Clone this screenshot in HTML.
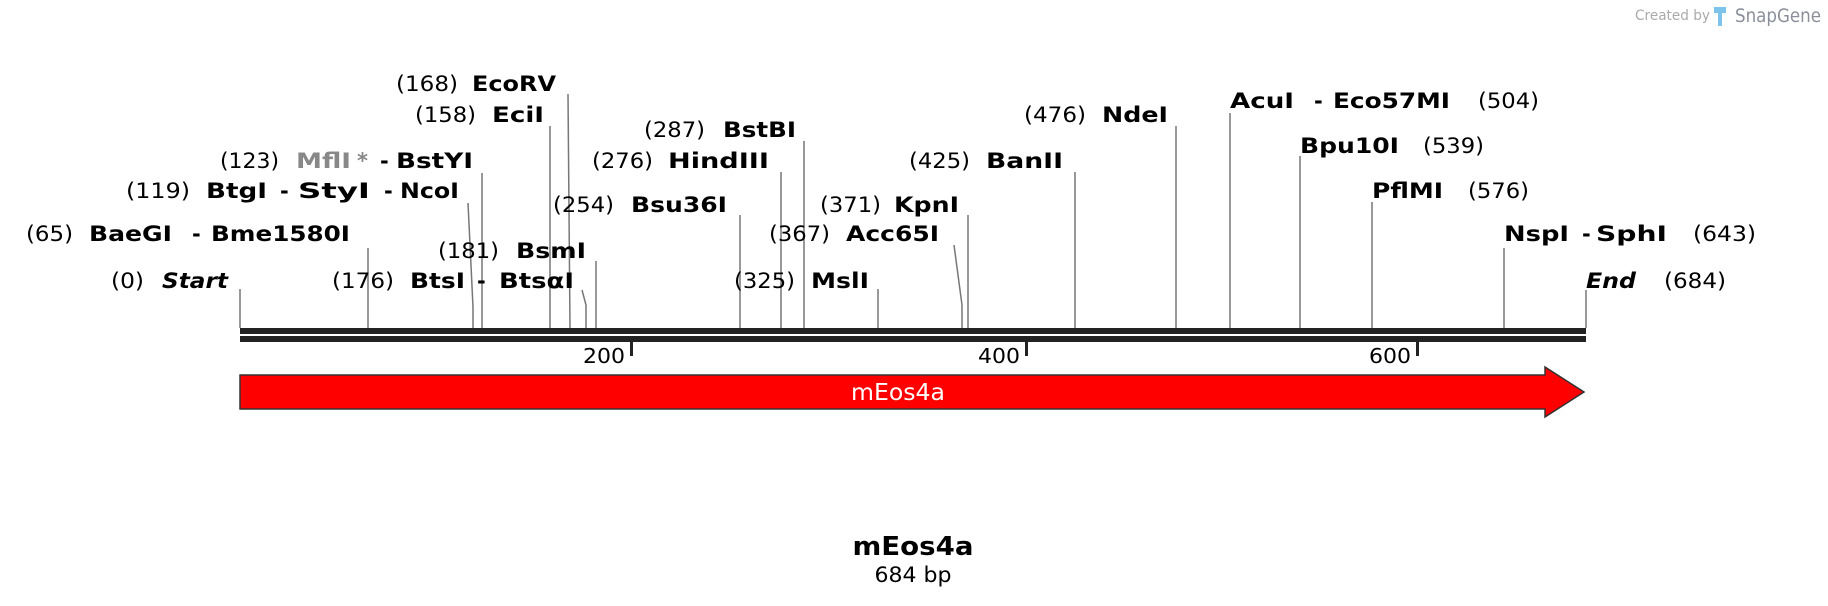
<!DOCTYPE html>
<html><head><meta charset="utf-8"><style>
html,body{margin:0;padding:0;background:#fff;}
svg{display:block;}
text{font-family:"DejaVu Sans","Liberation Sans",sans-serif;}
.n{font-size:21px;fill:#000;}
.b{font-size:21px;font-weight:bold;fill:#000;}
.g{font-size:21px;font-weight:bold;fill:#888;}
.l{stroke:#777;stroke-width:1.5;fill:none;}
</style></head><body>
<svg width="1828" height="606" viewBox="0 0 1828 606" xmlns="http://www.w3.org/2000/svg">
<text x="1635" y="20" font-size="14" fill="#aaa" textLength="75" lengthAdjust="spacingAndGlyphs">Created by</text>
<path d="M1714 7 h12 v6 h-4 v13 h-4 v-13 h-4z" fill="#7cc4ec"/>
<text x="1735" y="22" font-size="19" fill="#8a8f99" textLength="86" lengthAdjust="spacingAndGlyphs">SnapGene</text>

<path class="l" d="M240 289V328"/>
<path class="l" d="M368 248V328"/>
<path class="l" d="M468 203L473 307V328"/>
<path class="l" d="M482 173V328"/>
<path class="l" d="M550 126V328"/>
<path class="l" d="M568 94L570 328"/>
<path class="l" d="M582 290L586 305V328"/>
<path class="l" d="M596 261V328"/>
<path class="l" d="M740 215V328"/>
<path class="l" d="M781 172V328"/>
<path class="l" d="M804 141V328"/>
<path class="l" d="M878 289V328"/>
<path class="l" d="M954 245L962 305V328"/>
<path class="l" d="M968 215V328"/>
<path class="l" d="M1075 172V328"/>
<path class="l" d="M1176 126V328"/>
<path class="l" d="M1230 113V328"/>
<path class="l" d="M1300 156V328"/>
<path class="l" d="M1372 202V328"/>
<path class="l" d="M1504 248V328"/>
<path class="l" d="M1586 290V328"/>

<rect x="240" y="328" width="1346" height="6" fill="#222"/>
<rect x="240" y="336" width="1346" height="6" fill="#222"/>
<rect x="630" y="342" width="3" height="14" fill="#222"/>
<rect x="1025" y="342" width="3" height="14" fill="#222"/>
<rect x="1416" y="342" width="3" height="14" fill="#222"/>
<text x="625" y="363" font-size="20" text-anchor="end" textLength="42" lengthAdjust="spacingAndGlyphs">200</text>
<text x="1020" y="363" font-size="20" text-anchor="end" textLength="42" lengthAdjust="spacingAndGlyphs">400</text>
<text x="1411" y="363" font-size="20" text-anchor="end" textLength="42" lengthAdjust="spacingAndGlyphs">600</text>

<path d="M240 375H1545V367L1584 392L1545 417V409H240Z" fill="#f00" stroke="#333" stroke-width="1.5"/>
<text x="898" y="400" font-size="23" fill="#fff" text-anchor="middle" textLength="94" lengthAdjust="spacingAndGlyphs">mEos4a</text>

<g>
<text class="n" x="396" y="91" textLength="62" lengthAdjust="spacingAndGlyphs">(168)</text>
<text class="b" x="472" y="91" textLength="84" lengthAdjust="spacingAndGlyphs">EcoRV</text>
<text class="n" x="415" y="122" textLength="61" lengthAdjust="spacingAndGlyphs">(158)</text>
<text class="b" x="492" y="122" textLength="52" lengthAdjust="spacingAndGlyphs">EciI</text>
<text class="n" x="644" y="137" textLength="61" lengthAdjust="spacingAndGlyphs">(287)</text>
<text class="b" x="723" y="137" textLength="73" lengthAdjust="spacingAndGlyphs">BstBI</text>
<text class="n" x="220" y="168" textLength="59" lengthAdjust="spacingAndGlyphs">(123)</text>
<text class="g" x="296" y="168" textLength="55" lengthAdjust="spacingAndGlyphs">MflI</text>
<text class="g" x="357" y="168">*</text>
<text class="b" x="380" y="168">-</text>
<text class="b" x="396" y="168" textLength="77" lengthAdjust="spacingAndGlyphs">BstYI</text>
<text class="n" x="592" y="168" textLength="61" lengthAdjust="spacingAndGlyphs">(276)</text>
<text class="b" x="668" y="168" textLength="101" lengthAdjust="spacingAndGlyphs">HindIII</text>
<text class="n" x="909" y="168" textLength="61" lengthAdjust="spacingAndGlyphs">(425)</text>
<text class="b" x="986" y="168" textLength="77" lengthAdjust="spacingAndGlyphs">BanII</text>
<text class="n" x="1024" y="122" textLength="62" lengthAdjust="spacingAndGlyphs">(476)</text>
<text class="b" x="1102" y="122" textLength="66" lengthAdjust="spacingAndGlyphs">NdeI</text>
<text class="b" x="1230" y="108" textLength="64" lengthAdjust="spacingAndGlyphs">AcuI</text>
<text class="b" x="1314" y="108">-</text>
<text class="b" x="1333" y="108" textLength="117" lengthAdjust="spacingAndGlyphs">Eco57MI</text>
<text class="n" x="1478" y="108" textLength="61" lengthAdjust="spacingAndGlyphs">(504)</text>
<text class="b" x="1300" y="153" textLength="99" lengthAdjust="spacingAndGlyphs">Bpu10I</text>
<text class="n" x="1423" y="153" textLength="61" lengthAdjust="spacingAndGlyphs">(539)</text>
<text class="b" x="1372" y="198" textLength="71" lengthAdjust="spacingAndGlyphs">PflMI</text>
<text class="n" x="1468" y="198" textLength="61" lengthAdjust="spacingAndGlyphs">(576)</text>
<text class="b" x="1504" y="241" textLength="65" lengthAdjust="spacingAndGlyphs">NspI</text>
<text class="b" x="1582" y="241">-</text>
<text class="b" x="1596" y="241" textLength="71" lengthAdjust="spacingAndGlyphs">SphI</text>
<text class="n" x="1693" y="241" textLength="63" lengthAdjust="spacingAndGlyphs">(643)</text>
<text class="b" x="1586" y="288" font-style="italic" textLength="50" lengthAdjust="spacingAndGlyphs">End</text>
<text class="n" x="1664" y="288" textLength="62" lengthAdjust="spacingAndGlyphs">(684)</text>
<text class="n" x="126" y="198" textLength="64" lengthAdjust="spacingAndGlyphs">(119)</text>
<text class="b" x="206" y="198" textLength="61" lengthAdjust="spacingAndGlyphs">BtgI</text>
<text class="b" x="280" y="198">-</text>
<text class="b" x="298" y="198" textLength="72" lengthAdjust="spacingAndGlyphs">StyI</text>
<text class="b" x="384" y="198">-</text>
<text class="b" x="400" y="198" textLength="59" lengthAdjust="spacingAndGlyphs">NcoI</text>
<text class="n" x="553" y="212" textLength="61" lengthAdjust="spacingAndGlyphs">(254)</text>
<text class="b" x="631" y="212" textLength="96" lengthAdjust="spacingAndGlyphs">Bsu36I</text>
<text class="n" x="820" y="212" textLength="61" lengthAdjust="spacingAndGlyphs">(371)</text>
<text class="b" x="894" y="212" textLength="65" lengthAdjust="spacingAndGlyphs">KpnI</text>
<text class="n" x="26" y="241" textLength="47" lengthAdjust="spacingAndGlyphs">(65)</text>
<text class="b" x="89" y="241" textLength="83" lengthAdjust="spacingAndGlyphs">BaeGI</text>
<text class="b" x="192" y="241">-</text>
<text class="b" x="211" y="241" textLength="139" lengthAdjust="spacingAndGlyphs">Bme1580I</text>
<text class="n" x="769" y="241" textLength="61" lengthAdjust="spacingAndGlyphs">(367)</text>
<text class="b" x="846" y="241" textLength="93" lengthAdjust="spacingAndGlyphs">Acc65I</text>
<text class="n" x="438" y="258" textLength="61" lengthAdjust="spacingAndGlyphs">(181)</text>
<text class="b" x="516" y="258" textLength="70" lengthAdjust="spacingAndGlyphs">BsmI</text>
<text class="n" x="111" y="288" textLength="33" lengthAdjust="spacingAndGlyphs">(0)</text>
<text class="b" x="162" y="288" font-style="italic" textLength="66" lengthAdjust="spacingAndGlyphs">Start</text>
<text class="n" x="332" y="288" textLength="62" lengthAdjust="spacingAndGlyphs">(176)</text>
<text class="b" x="410" y="288" textLength="55" lengthAdjust="spacingAndGlyphs">BtsI</text>
<text class="b" x="477" y="288">-</text>
<text class="b" x="499" y="288" textLength="75" lengthAdjust="spacingAndGlyphs">BtsαI</text>
<text class="n" x="734" y="288" textLength="61" lengthAdjust="spacingAndGlyphs">(325)</text>
<text class="b" x="811" y="288" textLength="58" lengthAdjust="spacingAndGlyphs">MslI</text>
</g>

<text x="913" y="555" font-size="26" font-weight="bold" text-anchor="middle" textLength="121" lengthAdjust="spacingAndGlyphs">mEos4a</text>
<text x="913" y="582" font-size="21" text-anchor="middle" textLength="77" lengthAdjust="spacingAndGlyphs">684 bp</text>
</svg>
</body></html>
